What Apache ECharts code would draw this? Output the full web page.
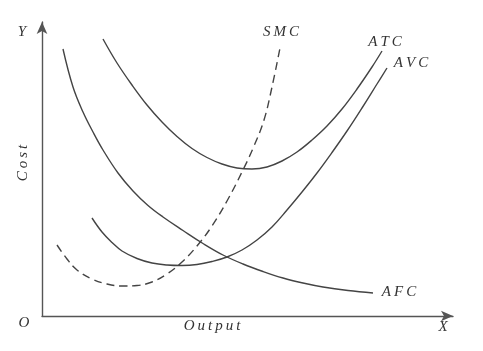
<!DOCTYPE html>
<html>
<head>
<meta charset="utf-8">
<script src="https://cdn.jsdelivr.net/npm/echarts@6/dist/echarts.min.js"></script>
<style>
html,body{margin:0;padding:0;background:#fff;}
#chart{width:483px;height:351px;}
</style>
</head>
<body>
<div id="chart"></div>
<script>
// 曲线数据：[产量, 成本]
var atc = [[61,277],[75,253],[90,231],[105,211],[120,194],[135,179.5],[150,167.5],[165,158.5],[180,152],[195,148],[210,147],[225,149],[240,155],[255,164],[270,176],[285,190],[300,207],[315,227],[330,249],[340,265]];
var avc = [[50,98],[60,84],[70,73.5],[80,65],[95,57.5],[110,53],[125,51],[140,50.5],[155,51.5],[170,54.5],[185,59],[200,66],[215,76],[230,89],[245,106],[260,124],[275,143],[290,163.5],[305,185],[320,208],[335,232],[345,248]];
var afc = [[21,267],[31,229],[41,204],[51,184],[61,166],[76,143],[91,125],[106,110.5],[121,99],[141,85.5],[161,72.5],[181,61],[201,52],[221,44.5],[241,38],[261,33],[281,29],[306,25.5],[331,23]];
var smc = [[15,71],[25,57],[35,46],[50,37],[65,32],[80,30],[95,30.5],[110,34],[125,42],[140,54],[155,70],[170,90],[185,115],[200,144],[212,170],[222,196],[230,229],[238,268]];

var lineColor = '#444';
var font = 'Liberation Serif';
var sp = '\u2009';//字母间距

var curve = function (name, data, dashed) {
    return {
        name: name,
        type: 'line',
        data: data,
        smooth: 0.4,
        symbol: 'none',
        silent: true,
        lineStyle: {
            color: lineColor,
            width: 1.4,
            type: dashed ? [8, 5] : 'solid'
        }
    };
};

var label = function (text, x, y, rotate) {
    return {
        type: 'text',
        x: x,
        y: y,
        rotation: rotate || 0,
        style: {
            text: text,
            font: 'italic 15px "' + font + '"',
            fill: '#333',
            align: 'center',
            verticalAlign: 'middle'
        }
    };
};

var spaced = function (s) {
    return s.split('').join(sp);
};

window.onload = function () {
    var chart = echarts.init(document.getElementById('chart'));
    chart.setOption({
        animation: false,
        grid: {left: 42, right: 30, top: 22, bottom: 35},
        xAxis: {
            type: 'value', min: 0, max: 411,
            axisLine: {show: true, symbol: ['none', 'arrow'], symbolSize: [8, 12],
                lineStyle: {color: '#555', width: 1.4}},
            axisTick: {show: false}, axisLabel: {show: false}, splitLine: {show: false}
        },
        yAxis: {
            type: 'value', min: 0, max: 294,
            axisLine: {show: true, symbol: ['none', 'arrow'], symbolSize: [8, 12],
                lineStyle: {color: '#555', width: 1.4}},
            axisTick: {show: false}, axisLabel: {show: false}, splitLine: {show: false}
        },
        graphic: [
            label('Y', 22, 32),
            label('O', 24, 323),
            label('X', 443, 327),
            label(spaced('Output'), 212, 326),
            label(spaced('Cost'), 23, 163, Math.PI / 2),
            label(spaced('SMC'), 281, 32),
            label(spaced('ATC'), 385, 42),
            label(spaced('AVC'), 411, 63),
            label(spaced('AFC'), 399, 292)
        ],
        series: [
            curve('ATC', atc),
            curve('AVC', avc),
            curve('AFC', afc),
            curve('SMC', smc, true)
        ]
    });
};
</script>
</body>
</html>
